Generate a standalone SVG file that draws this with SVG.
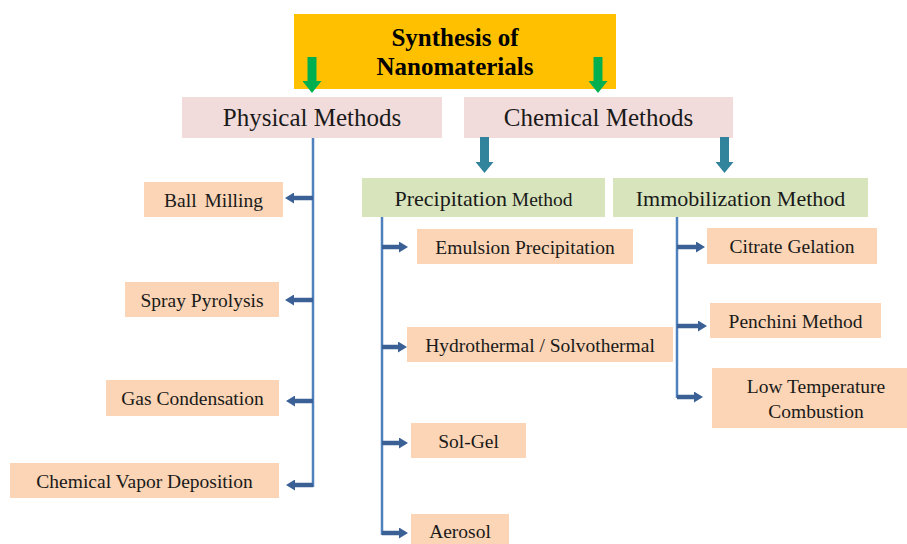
<svg xmlns="http://www.w3.org/2000/svg" width="907" height="544" viewBox="0 0 907 544">
<defs>
<style>
text{font-family:"Liberation Serif","Times New Roman",serif;fill:#1a1a1a;text-anchor:middle}
.title{font-weight:bold;font-size:25px;fill:#000}
.big{font-size:25px}
.mid{font-size:22px}
.sm{font-size:19.5px}
.gold{fill:#FFC000}
.pink{fill:#F2DCDB}
.green{fill:#D8E4BC}
.peach{fill:#FBD5B5}
.vl{stroke:#4F81BD;stroke-width:2.5;fill:none}
.ha{stroke:#3A6095;stroke-width:4.5;marker-end:url(#hb)}
.ga{stroke:#00B050;stroke-width:9;marker-end:url(#hg)}
.ta{stroke:#31849B;stroke-width:9;marker-end:url(#ht)}
</style>
<marker id="hb" markerUnits="userSpaceOnUse" markerWidth="9" markerHeight="11" viewBox="0 0 9 11" refX="1" refY="5.5" orient="auto"><path d="M0,0 L9,5.5 L0,11 Z" fill="#3A6095"/></marker>
<marker id="hg" markerUnits="userSpaceOnUse" markerWidth="12" markerHeight="19" viewBox="0 0 12 19" refX="1" refY="9.5" orient="auto"><path d="M0,0 L12,9.5 L0,19 Z" fill="#00B050"/></marker>
<marker id="ht" markerUnits="userSpaceOnUse" markerWidth="11" markerHeight="18" viewBox="0 0 11 18" refX="1" refY="9" orient="auto"><path d="M0,0 L11,9 L0,18 Z" fill="#31849B"/></marker>
</defs>

<g id="node-synthesis"><rect class="gold" x="294" y="14" width="322" height="75"/><text class="title" x="455" y="46">Synthesis of</text><text class="title" x="455" y="75">Nanomaterials</text></g>
<g id="node-physical"><rect class="pink" x="182" y="97" width="260" height="41"/><text class="big" x="312" y="126">Physical Methods</text></g>
<g id="node-chemical"><rect class="pink" x="464" y="97" width="269" height="41"/><text class="big" x="598.5" y="126">Chemical Methods</text></g>

<g id="node-ball"><rect class="peach" x="144" y="182" width="139" height="35"/><text class="sm" x="213.5" y="206.5" word-spacing="3">Ball Milling</text></g>
<g id="node-spray"><rect class="peach" x="125" y="282" width="154" height="35"/><text class="sm" x="202" y="306.5">Spray Pyrolysis</text></g>
<g id="node-gas"><rect class="peach" x="106" y="380" width="173" height="36"/><text class="sm" x="192.5" y="405">Gas Condensation</text></g>
<g id="node-cvd"><rect class="peach" x="10" y="463" width="269" height="35"/><text class="sm" x="144.5" y="487.5">Chemical Vapor Deposition</text></g>

<g id="node-precip"><rect class="green" x="362" y="178" width="243" height="39"/><text x="483.5" y="205.5"><tspan font-size="22">Precipitation</tspan><tspan font-size="19.5"> Method</tspan></text></g>
<g id="node-immob"><rect class="green" x="613" y="178" width="255" height="39"/><text class="mid" x="740.5" y="205.5">Immobilization Method</text></g>

<g id="node-emulsion"><rect class="peach" x="417" y="229" width="216" height="35"/><text class="sm" x="525" y="253.5">Emulsion Precipitation</text></g>
<g id="node-hydro"><rect class="peach" x="407" y="327" width="266" height="35"/><text class="sm" x="540" y="351.5">Hydrothermal / Solvothermal</text></g>
<g id="node-solgel"><rect class="peach" x="411" y="423" width="115" height="35"/><text class="sm" x="468.5" y="447.5">Sol-Gel</text></g>
<g id="node-aerosol"><rect class="peach" x="411" y="514" width="98" height="35"/><text class="sm" x="460" y="538">Aerosol</text></g>

<g id="node-citrate"><rect class="peach" x="707" y="228" width="170" height="36"/><text class="sm" x="792" y="252.5">Citrate Gelation</text></g>
<g id="node-penchini"><rect class="peach" x="710" y="303" width="171" height="35"/><text class="sm" x="795.5" y="327.5">Penchini Method</text></g>
<g id="node-ltc"><rect class="peach" x="712" y="368" width="195" height="60"/><text class="sm" x="816" y="393">Low Temperature</text><text class="sm" x="816" y="418">Combustion</text></g>

<g id="connectors">
<line class="ga" x1="312" y1="57" x2="312" y2="82"/>
<line class="ga" x1="598" y1="57" x2="598" y2="82"/>
<line class="ta" x1="484.5" y1="137" x2="484.5" y2="163"/>
<line class="ta" x1="724.5" y1="137" x2="724.5" y2="163"/>
<line class="vl" x1="313" y1="138" x2="313" y2="487"/>
<line class="ha" x1="313" y1="198" x2="293" y2="198"/>
<line class="ha" x1="313" y1="300" x2="293" y2="300"/>
<line class="ha" x1="313" y1="401" x2="294" y2="401"/>
<line class="ha" x1="313" y1="485" x2="294" y2="485"/>
<line class="vl" x1="382" y1="217" x2="382" y2="535"/>
<line class="ha" x1="382" y1="247" x2="400" y2="247"/>
<line class="ha" x1="382" y1="347" x2="399" y2="347"/>
<line class="ha" x1="382" y1="443" x2="400" y2="443"/>
<line class="ha" x1="382" y1="533" x2="400" y2="533"/>
<line class="vl" x1="677" y1="217" x2="677" y2="398"/>
<line class="ha" x1="677" y1="247" x2="697" y2="247"/>
<line class="ha" x1="677" y1="326" x2="699" y2="326"/>
<line class="ha" x1="677" y1="397" x2="695" y2="397"/>
</g>
</svg>
